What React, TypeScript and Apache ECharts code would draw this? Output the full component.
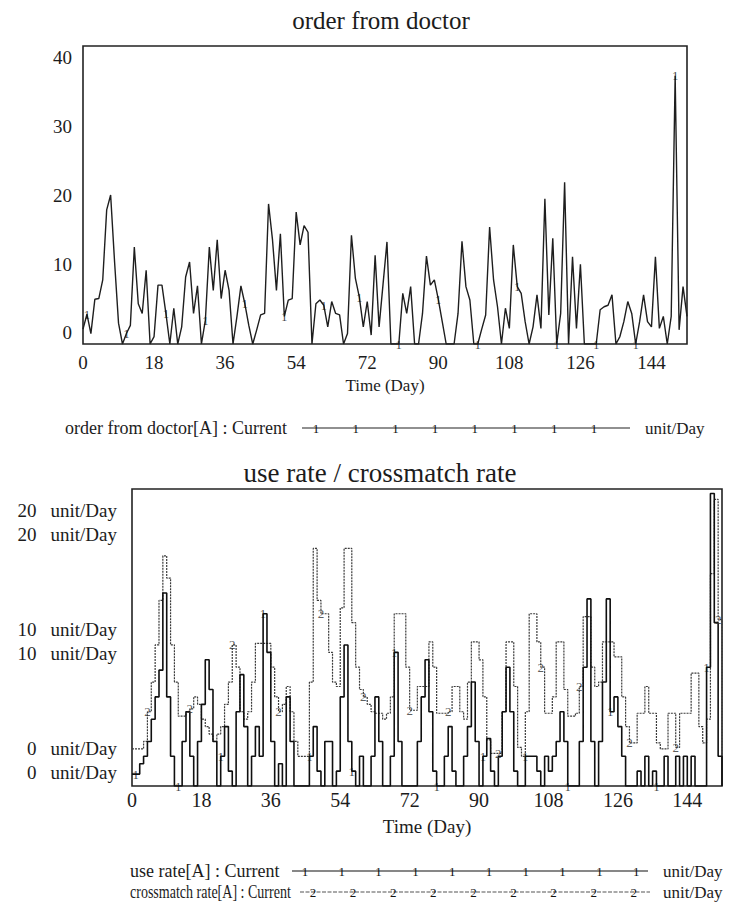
import React, { useEffect, useRef } from "react";
import * as echarts from "echarts";

const FONT = "'Liberation Serif', 'Times New Roman', serif";
const INK = "#1c1c1c";

// time axis (days)
const days = [
  0, 1, 2, 3, 4, 5, 6, 7, 8, 9, 10, 11, 12, 13, 14, 15, 16, 17, 18, 19,
  20, 21, 22, 23, 24, 25, 26, 27, 28, 29, 30, 31, 32, 33, 34, 35, 36, 37, 38, 39,
  40, 41, 42, 43, 44, 45, 46, 47, 48, 49, 50, 51, 52, 53, 54, 55, 56, 57, 58, 59,
  60, 61, 62, 63, 64, 65, 66, 67, 68, 69, 70, 71, 72, 73, 74, 75, 76, 77, 78, 79,
  80, 81, 82, 83, 84, 85, 86, 87, 88, 89, 90, 91, 92, 93, 94, 95, 96, 97, 98, 99,
  100, 101, 102, 103, 104, 105, 106, 107, 108, 109, 110, 111, 112, 113, 114, 115, 116, 117, 118, 119,
  120, 121, 122, 123, 124, 125, 126, 127, 128, 129, 130, 131, 132, 133, 134, 135, 136, 137, 138, 139,
  140, 141, 142, 143, 144, 145, 146, 147, 148, 149, 150, 151, 152, 153,
];

// order from doctor[A] (unit/Day)
const orderFromDoctor = [
  2, 4, 1.4, 6, 6.1, 8.6, 18, 20, 11, 2.8,
  0, 1.4, 2.5, 13, 5.4, 4.1, 9.9, 0, 1, 7.9,
  7.9, 4.1, 0, 4.8, 0, 2.3, 9, 11, 4.1, 7.8,
  0, 3.2, 13, 7.2, 14, 6.1, 9.9, 7.2, 0, 3.7,
  7.8, 5.4, 2.5, 0, 1.9, 3.9, 4.1, 18.8, 14, 7.2,
  14.8, 3.7, 5.9, 6.1, 17.7, 13.3, 15.9, 15, 0, 5.4,
  5.9, 5.2, 2.3, 5.7, 4.1, 3.9, 0, 1.4, 14.6, 8.8,
  6.3, 2.3, 5.7, 1.2, 11.9, 2.3, 8, 13.7, 0, 0,
  0, 6.8, 4.1, 7.7, 0, 0, 4.1, 11.8, 7.9, 8.6,
  6, 3, 0, 0, 0, 4.1, 13.8, 7.7, 5.9, 0,
  0, 2, 3.9, 15.7, 8.6, 5, 0, 4.8, 2.1, 13.3,
  7.7, 6.8, 3, 0, 2.3, 6.6, 2.1, 19.5, 3.9, 14.2,
  0, 4.1, 21.7, 0, 11.7, 2.1, 10.7, 0, 0, 0,
  0, 4.6, 5, 5.2, 6.6, 0, 1, 3, 5.7, 4.1,
  0, 3, 6.6, 3, 2.3, 11.7, 2.1, 3.7, 0, 3.7,
  36, 1.9, 7.7, 3.7,
];

// use rate[A] (unit/Day)
const useRate = [
  0.8, 0.8, 1.5, 2, 3, 4.5, 6, 7.8, 13, 6,
  2, 0, 0, 3, 5, 2, 0, 3, 5.5, 8.5,
  6.5, 3, 0, 2, 4, 1, 0, 5, 7.5, 4,
  0, 2, 4, 2, 11.6, 9, 3, 0, 1.5, 0,
  6, 3, 0, 0, 0, 0, 2, 4, 1, 0,
  3, 3, 0, 1, 6, 9.5, 3, 1, 0, 2,
  0, 0, 2, 6, 3, 0, 0, 2, 9, 3,
  0, 0, 0, 0, 3, 6, 8.5, 5, 1, 0,
  0, 2, 4, 1, 0, 0, 2, 4, 7, 3,
  0, 2, 3.2, 1, 0, 2, 5, 8, 5, 1,
  0, 0, 2, 2, 2, 1, 0, 2, 1, 2,
  3, 5, 3, 0, 0, 0, 3, 8, 12.6, 3,
  0, 3, 7, 12.6, 5, 6, 4, 2, 0, 0,
  0, 1, 0, 2, 0, 1, 0, 0, 2, 0,
  0, 2, 0, 2, 0, 2, 0, 0, 0, 8,
  19.7, 11, 2, 0,
];

// crossmatch rate[A] (unit/Day)
const crossmatchRate = [
  2.5, 2.5, 2.5, 3, 5, 7, 9.5, 12.5, 15.5, 14,
  9.5, 7, 4.7, 4.7, 5, 5.2, 6, 5.5, 4.5, 4,
  3.5, 3, 3.5, 4, 5.5, 7, 9.5, 8, 5, 4.5,
  5, 7, 9.6, 9.6, 9.6, 9.6, 8, 6, 5, 5.5,
  6.7, 5, 3, 2, 2, 2, 7, 16, 12.5, 11.6,
  11.6, 9, 7, 6.7, 12, 16, 16, 11, 8, 6.5,
  6, 5.5, 5, 4.9, 4.9, 4.5, 4.9, 6, 11.6, 11.6,
  11.6, 8, 5.1, 5.1, 6.7, 6.7, 6.7, 9.7, 8, 4.9,
  4.9, 4.9, 5, 6.7, 6.7, 5, 4.5, 7, 9.7, 9.7,
  8.5, 6, 3.1, 2.2, 2.2, 2.2, 5, 9.7, 9.7, 6.7,
  2.6, 2, 5, 11.6, 11.6, 9.7, 8, 4.9, 4.9, 6,
  9.7, 9.7, 6.5, 4.7, 4.7, 4.9, 6.7, 11.4, 11.4, 8,
  6.7, 7, 9.7, 9.7, 9.7, 8.7, 8.7, 6, 4, 2.9,
  2.9, 4.9, 4.9, 6.7, 4.9, 4.9, 2.9, 2.5, 2.5, 4.9,
  4.9, 2.6, 4.9, 4.9, 4.9, 7.6, 7.6, 4, 2.9, 4.5,
  14.3, 19.3, 11.2, 2,
];

// tick labels
const xTicks = [0, 18, 36, 54, 72, 90, 108, 126, 144];
const topYTicks = [0, 10, 20, 30, 40];
const bottomYTicks = [0, 10, 20];

// days at which the series number is printed on the curves
const orderMarkerDays = [1, 11, 21, 31, 41, 51, 61, 70, 80, 90, 100, 110, 120, 130, 140, 150];
const useMarkerDays = [1, 12, 23, 34, 46, 57, 68, 79, 91, 102, 113, 124, 136, 149];
const crossMarkerDays = [4, 15, 26, 38, 49, 60, 72, 82, 95, 106, 116, 129, 141, 152];

const pairs = (vals: number[]) => days.map((d, i) => [d, vals[i]]);
const markerData = (md: number[], vals: number[]) => md.map((d) => [d, vals[days.indexOf(d)]]);

function markerSeries(xi: number, yi: number, md: number[], vals: number[], txt: string, color: string) {
  return {
    type: "scatter",
    xAxisIndex: xi,
    yAxisIndex: yi,
    data: markerData(md, vals),
    symbolSize: 1,
    itemStyle: { color: "transparent" },
    silent: true,
    z: 5,
    label: {
      show: true,
      position: "inside",
      formatter: txt,
      fontFamily: FONT,
      fontSize: 13,
      color,
      textBorderWidth: 0,
    },
  };
}

function legendRow(
  y: number,
  label: string,
  labelX: number,
  labelScaleX: number,
  lineX0: number,
  lineX1: number,
  mark: string,
  markX0: number,
  markStep: number,
  markCount: number,
  unitX: number,
  stroke: string,
  dash: number[] | null
) {
  const els: any[] = [
    {
      type: "text",
      x: labelX,
      y,
      scaleX: labelScaleX,
      style: { text: label, fontFamily: FONT, fontSize: 18, fill: INK, verticalAlign: "middle", align: "left" },
    },
    {
      type: "line",
      shape: { x1: lineX0, y1: y, x2: lineX1, y2: y },
      style: { stroke, lineWidth: 1.2, lineDash: dash || undefined },
    },
    {
      type: "text",
      x: unitX,
      y,
      style: { text: "unit/Day", fontFamily: FONT, fontSize: 17, fill: INK, verticalAlign: "middle", align: "left" },
    },
  ];
  for (let k = 0; k < markCount; k++) {
    els.push({
      type: "text",
      x: markX0 + k * markStep,
      y,
      style: { text: mark, fontFamily: FONT, fontSize: 13, fill: "#111", verticalAlign: "middle", align: "center" },
    });
  }
  return els;
}

export default function App() {
  const ref = useRef<HTMLDivElement>(null);

  useEffect(() => {
    document.body.style.margin = "0";
    if (!ref.current) return;
    const chart = echarts.init(ref.current, undefined, { renderer: "svg" });

    const textBase = { fontFamily: FONT, color: INK };

    chart.setOption({
      animation: false,
      backgroundColor: "#ffffff",
      title: [
        {
          text: "order from doctor",
          left: 381,
          top: 8,
          padding: 0,
          textAlign: "center",
          textStyle: { ...textBase, fontSize: 25, fontWeight: "normal" },
        },
        {
          text: "use rate / crossmatch rate",
          left: 380,
          top: 459,
          padding: 0,
          textAlign: "center",
          textStyle: { ...textBase, fontSize: 27, fontWeight: "normal" },
        },
      ],
      grid: [
        { left: 83, top: 46, width: 604, height: 298, show: true, borderColor: "#222", borderWidth: 1.6 },
        { left: 132, top: 489, width: 590, height: 297, show: true, borderColor: "#222", borderWidth: 1.6 },
      ],
      xAxis: [
        {
          gridIndex: 0,
          type: "value",
          min: 0,
          max: 153,
          axisLine: { show: false },
          axisTick: { show: false },
          splitLine: { show: false },
          axisLabel: { ...textBase, fontSize: 19, margin: 9, customValues: xTicks },
          name: "Time (Day)",
          nameLocation: "middle",
          nameGap: 33,
          nameTextStyle: { ...textBase, fontSize: 17 },
        },
        {
          gridIndex: 1,
          type: "value",
          min: 0,
          max: 153,
          axisLine: { show: false },
          axisTick: { show: false },
          splitLine: { show: false },
          axisLabel: { ...textBase, fontSize: 20, margin: 4, customValues: xTicks },
          name: "Time (Day)",
          nameLocation: "middle",
          nameGap: 31,
          nameTextStyle: { ...textBase, fontSize: 19 },
        },
      ],
      yAxis: [
        { gridIndex: 0, type: "value", min: 0, max: 40, show: false },
        {
          gridIndex: 0,
          type: "value",
          position: "left",
          min: -1.6,
          max: 41.7,
          axisLine: { show: false },
          axisTick: { show: false },
          splitLine: { show: false },
          axisLabel: { ...textBase, fontSize: 19, margin: 11, customValues: topYTicks },
        },
        { gridIndex: 1, type: "value", min: 0, max: 20, show: false },
        {
          gridIndex: 1,
          type: "value",
          position: "left",
          min: -2.16,
          max: 22.85,
          axisLine: { show: false },
          axisTick: { show: false },
          splitLine: { show: false },
          axisLabel: {
            ...textBase,
            fontSize: 19,
            margin: 15,
            customValues: bottomYTicks,
            formatter: (v: number) => `{n|${v}}{u|unit/Day}\n{n|${v}}{u|unit/Day}`,
            rich: {
              n: { fontFamily: FONT, fontSize: 19, color: INK, lineHeight: 24 },
              u: { fontFamily: FONT, fontSize: 19, color: INK, lineHeight: 24, padding: [0, 0, 0, 14] },
            },
          },
        },
      ],
      series: [
        {
          name: "order from doctor[A] : Current",
          type: "line",
          xAxisIndex: 0,
          yAxisIndex: 0,
          data: pairs(orderFromDoctor),
          showSymbol: false,
          symbol: "none",
          lineStyle: { color: "#1e1e1e", width: 1.4 },
        },
        markerSeries(0, 0, orderMarkerDays, orderFromDoctor, "1", "#111"),
        {
          name: "crossmatch rate[A] : Current",
          type: "line",
          step: "end",
          xAxisIndex: 1,
          yAxisIndex: 2,
          data: pairs(crossmatchRate),
          showSymbol: false,
          symbol: "none",
          lineStyle: { color: "#3a3a3a", width: 1.2, type: [2, 1] },
        },
        {
          name: "use rate[A] : Current",
          type: "line",
          step: "end",
          xAxisIndex: 1,
          yAxisIndex: 2,
          data: pairs(useRate),
          showSymbol: false,
          symbol: "none",
          lineStyle: { color: "#0f0f0f", width: 1.6 },
        },
        markerSeries(1, 2, useMarkerDays, useRate, "1", "#111"),
        markerSeries(1, 2, crossMarkerDays, crossmatchRate, "2", "#333"),
      ],
      graphic: [
        ...legendRow(428, "order from doctor[A] : Current", 65, 1, 302, 630, "1", 316, 39.7, 8, 645, "#222", null),
        ...legendRow(871, "use rate[A] : Current", 130, 1, 292, 648, "1", 305, 36.8, 10, 663, "#111", null),
        ...legendRow(892, "crossmatch rate[A] : Current", 130, 0.78, 300, 650, "2", 313, 40.1, 9, 663, "#555", [4, 1.5]),
      ],
    });

    return () => chart.dispose();
  }, []);

  return <div ref={ref} style={{ width: 733, height: 907 }} />;
}
